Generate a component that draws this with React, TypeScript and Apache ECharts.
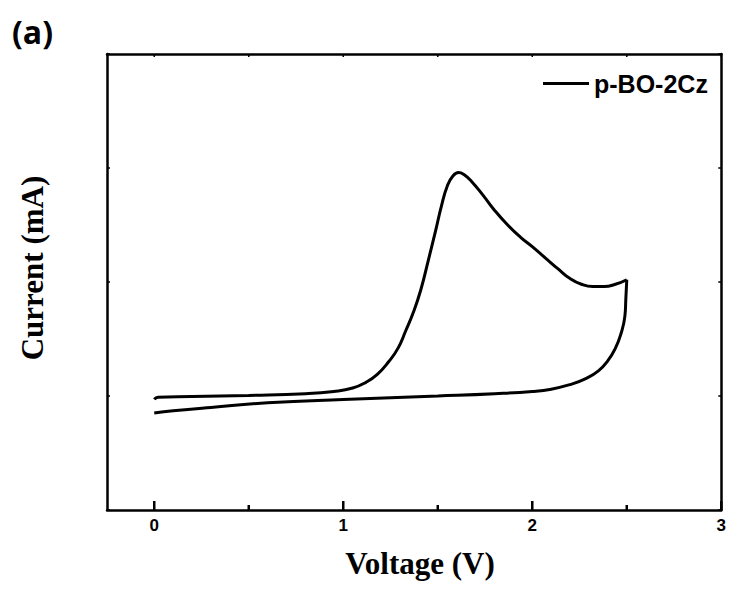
import React, { useEffect, useRef } from "react";
import * as echarts from "echarts";

const seriesName = "p-BO-2Cz";
const xMajorTicks = [0, 1, 2, 3];
const xMinorTicks = [0.5, 1.5, 2.5];

// Forward (anodic) scan: voltage (V), current
const forwardScan: [number, number][] = [
  [0.0, 0.97], [0.02, 0.99], [0.2, 0.995], [0.5, 1.005], [0.8, 1.02],
  [0.95, 1.04], [1.05, 1.07], [1.12, 1.12], [1.18, 1.19], [1.24, 1.3],
  [1.29, 1.42], [1.33, 1.57], [1.37, 1.73], [1.41, 1.93], [1.45, 2.19],
  [1.49, 2.46], [1.52, 2.67], [1.55, 2.84], [1.58, 2.93], [1.61, 2.96],
  [1.64, 2.94], [1.68, 2.88], [1.74, 2.76], [1.8, 2.63], [1.87, 2.5],
  [1.94, 2.39], [2.0, 2.31], [2.07, 2.21], [2.14, 2.11], [2.2, 2.03],
  [2.26, 1.98], [2.32, 1.96], [2.38, 1.96], [2.44, 1.98], [2.5, 2.02],
];

// Reverse scan: voltage (V), current
const reverseScan: [number, number][] = [
  [2.5, 2.02], [2.495, 1.85], [2.49, 1.7], [2.47, 1.55], [2.44, 1.42],
  [2.4, 1.31], [2.35, 1.22], [2.28, 1.15], [2.2, 1.1], [2.1, 1.06],
  [2.0, 1.04], [1.8, 1.02], [1.5, 1.0], [1.0, 0.97], [0.6, 0.94],
  [0.3, 0.9], [0.1, 0.87], [0.0, 0.85],
];

const Y_MIN = 0;
const Y_MAX = 4;

export default function App() {
  const ref = useRef<HTMLDivElement>(null);
  useEffect(() => {
    if (!ref.current) return;
    const chart = echarts.init(ref.current, null, { renderer: "svg" });
    const axisLine = { show: true, onZero: false, lineStyle: { color: "#000", width: 2.5 } };
    const tickSeries = (name: string, values: number[], y: number, w: number, h: number, dir: number) => ({
      name,
      type: "scatter",
      clip: false,
      silent: true,
      symbol: "rect",
      symbolSize: [w, h],
      symbolOffset: [0, (dir * h) / 2],
      itemStyle: { color: "#000", opacity: 1 },
      data: values.map((v) => [v, y]),
      z: 10,
    });
    chart.setOption({
      animation: false,
      backgroundColor: "#fff",
      grid: { left: 107, right: 5, top: 54, bottom: 80, containLabel: false },
      legend: {
        data: [seriesName],
        left: 538,
        top: 66,
        icon: "rect",
        itemWidth: 46,
        itemHeight: 3,
        itemGap: 5,
        textStyle: { color: "#000", fontWeight: "bold", fontSize: 25, fontFamily: "Liberation Sans" },
      },
      xAxis: [
        {
          type: "value",
          position: "bottom",
          min: -0.25,
          max: 3,
          interval: 0.25,
          axisLine,
          splitLine: { show: false },
          axisTick: { show: false },
          axisLabel: {
            show: true,
            margin: 7,
            color: "#000",
            fontWeight: "bold",
            fontSize: 17,
            fontFamily: "Liberation Sans",
            formatter: (v: number) => (Number.isInteger(v) ? String(v) : ""),
          },
        },
        {
          type: "value",
          position: "top",
          min: -0.25,
          max: 3,
          interval: 0.25,
          axisLine,
          splitLine: { show: false },
          axisTick: { show: false },
          axisLabel: { show: false },
        },
      ],
      yAxis: [
        {
          type: "value", position: "left", min: Y_MIN, max: Y_MAX, interval: 1, axisLine,
          splitLine: { show: false },
          axisTick: { show: true, inside: true, length: 3, lineStyle: { color: "#000", width: 1.5 } },
          axisLabel: { show: false },
        },
        {
          type: "value", position: "right", min: Y_MIN, max: Y_MAX, interval: 1, axisLine,
          splitLine: { show: false },
          axisTick: { show: true, inside: true, length: 3, lineStyle: { color: "#000", width: 1.5 } },
          axisLabel: { show: false },
        },
      ],
      series: [
        {
          name: seriesName, type: "line", data: forwardScan, smooth: 0.5, showSymbol: false, symbol: "none",
          lineStyle: { color: "#000", width: 3 }, itemStyle: { color: "#000" },
        },
        {
          name: seriesName, type: "line", data: reverseScan, smooth: 0.5, showSymbol: false, symbol: "none",
          lineStyle: { color: "#000", width: 3 }, itemStyle: { color: "#000" },
        },
        tickSeries("majorTicks", xMajorTicks, Y_MIN, 2.5, 9, -1),
        tickSeries("minorTicks", xMinorTicks, Y_MIN, 2.5, 5, -1),
        tickSeries("topTicks", [...xMajorTicks, ...xMinorTicks], Y_MAX, 1.5, 3, 1),
      ],
      graphic: [
        { type: "text", left: 12, top: 15, style: { text: "(a)", fill: "#000", font: "bold 32px 'Open Sans', sans-serif" } },
        {
          type: "text", x: 420, y: 563,
          style: { text: "Voltage (V)", fill: "#000", font: "bold 31px 'Liberation Serif', serif", align: "center", verticalAlign: "middle" },
        },
        {
          type: "text", x: 32, y: 268, rotation: Math.PI / 2,
          style: { text: "Current (mA)", fill: "#000", font: "bold 31px 'Liberation Serif', serif", align: "center", verticalAlign: "middle" },
        },
      ],
    });
    return () => chart.dispose();
  }, []);
  return <div ref={ref} style={{ position: "fixed", left: 0, top: 0, width: 729, height: 590 }} />;
}
